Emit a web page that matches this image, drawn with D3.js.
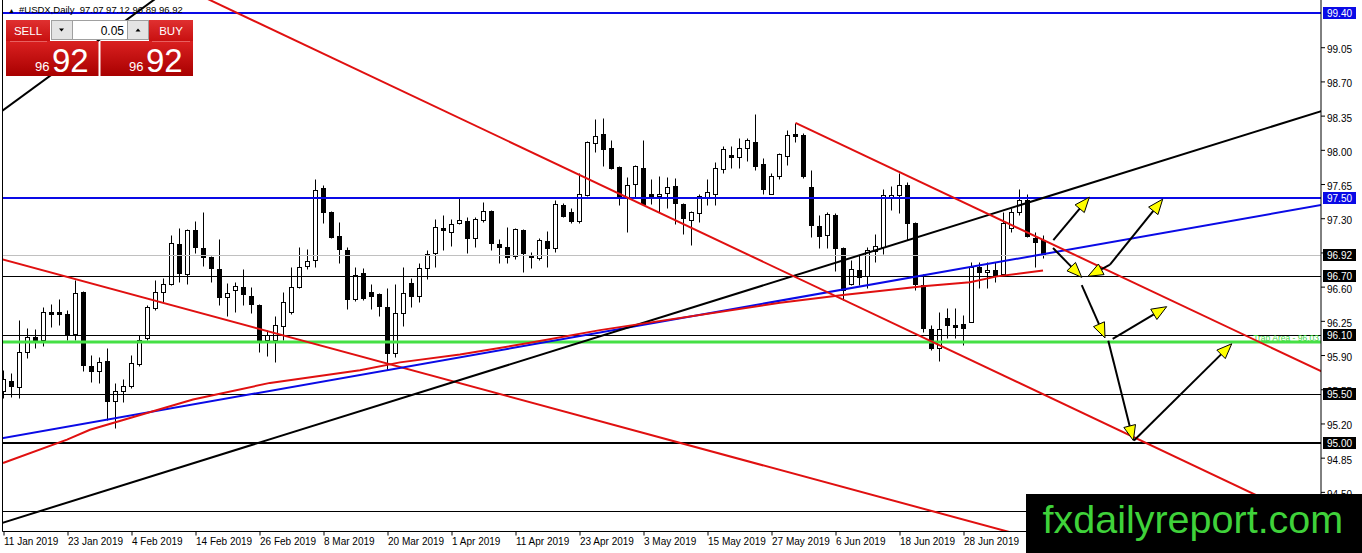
<!DOCTYPE html>
<html>
<head>
<meta charset="utf-8">
<script src="https://cdn.jsdelivr.net/npm/d3@7"></script>
<style>
  body { margin: 0; background: #fff; overflow: hidden; }
  svg { display: block; }
  text { font-family: "Liberation Sans", Arial, sans-serif; }
</style>
</head>
<body>
<div id="chart"></div>
<script>
// #USDX Daily, one candle per trading day starting 11 Jan 2019
const opens = [95.53,95.63,95.57,95.93,96.08,96.05,96.34,96.34,96.31,96.11,96.54,95.78,95.73,95.83,95.43,95.53,95.57,95.80,96.07,96.38,
  96.54,96.62,97.03,96.72,97.17,96.99,96.90,96.78,96.49,96.56,96.59,96.50,96.41,96.05,96.05,96.19,96.33,96.60,96.81,96.86,
  97.60,97.36,97.11,96.97,96.46,96.73,96.54,96.52,96.39,95.92,96.33,96.63,96.50,96.79,96.94,97.20,97.16,97.25,97.27,97.10,
  97.28,97.37,97.03,97.00,96.90,97.17,96.92,96.89,97.06,96.99,97.43,97.36,97.26,97.54,98.07,98.16,98.01,97.82,97.50,97.65,
  97.81,97.54,97.52,97.55,97.62,97.44,97.28,97.35,97.51,97.54,97.80,97.94,97.92,98.02,98.08,97.85,97.55,97.72,97.93,98.16,
  98.15,97.61,97.22,97.13,97.33,96.99,96.63,96.77,96.70,96.96,97.00,97.50,97.53,97.64,97.25,96.61,96.16,95.97,96.27,96.20,
  96.21,96.24,96.80,96.75,96.76,96.73,97.20,97.36,97.48,97.09,97.07];
const highs = [95.74,95.71,96.25,96.17,96.16,96.39,96.42,96.47,96.36,96.66,96.55,95.90,95.87,95.97,95.61,95.65,95.90,96.10,96.41,96.66,
  96.68,97.12,97.20,97.18,97.27,97.36,96.91,97.08,96.63,96.64,96.78,96.59,96.42,96.15,96.29,96.54,96.80,97.00,96.98,97.70,
  97.64,97.37,97.26,97.00,96.80,96.79,96.62,96.53,96.58,96.62,96.80,96.68,96.84,96.97,97.29,97.33,97.29,97.51,97.31,97.31,
  97.46,97.38,97.08,97.21,97.19,97.18,96.95,97.09,97.16,97.48,97.45,97.40,97.76,98.09,98.31,98.32,98.10,97.83,97.72,97.84,
  98.10,97.70,97.73,97.72,97.71,97.45,97.37,97.54,97.70,97.87,98.03,98.03,98.12,98.12,98.36,97.91,97.76,97.96,98.20,98.27,
  98.17,97.79,97.33,97.36,97.35,97.00,96.87,96.92,97.00,97.13,97.59,97.62,97.76,97.67,97.26,96.72,96.20,96.34,96.38,96.38,
  96.30,96.85,96.85,96.85,96.85,97.36,97.40,97.59,97.54,97.15,97.12];
const lows = [95.46,95.47,95.46,95.86,95.97,95.99,96.18,96.20,96.05,96.05,95.73,95.62,95.61,95.23,95.15,95.41,95.56,95.78,96.05,96.36,
  96.44,96.61,96.64,96.62,96.94,96.81,96.64,96.41,96.29,96.34,96.41,96.33,95.93,95.89,95.82,96.05,96.32,96.58,96.78,96.80,
  97.25,97.09,96.84,96.37,96.45,96.46,96.37,96.29,95.74,95.87,96.19,96.39,96.44,96.67,96.80,96.97,97.01,97.24,96.94,97.00,
  97.26,96.97,96.84,96.84,96.88,96.74,96.79,96.87,96.80,96.95,97.31,97.25,97.25,97.52,97.97,97.83,97.80,97.43,97.15,97.50,
  97.43,97.44,97.36,97.40,97.24,97.13,97.02,97.26,97.43,97.43,97.76,97.81,97.81,97.88,97.79,97.54,97.54,97.70,97.84,98.08,
  97.71,97.10,96.99,96.99,96.75,96.46,96.61,96.61,96.58,96.85,96.93,97.38,97.35,97.07,96.56,96.13,95.95,95.83,96.07,96.07,
  96.00,96.23,96.58,96.58,96.64,96.72,97.15,97.33,97.10,96.80,96.89];
const closes = [95.65,95.58,95.93,96.08,96.05,96.34,96.32,96.32,96.11,96.53,95.79,95.73,95.82,95.42,95.53,95.58,95.81,96.05,96.39,96.54,
  96.62,97.04,96.73,97.17,97.00,96.90,96.79,96.49,96.53,96.60,96.52,96.42,96.04,96.10,96.20,96.44,96.59,96.80,96.86,97.58,
  97.35,97.10,96.98,96.47,96.71,96.47,96.50,96.40,95.92,96.33,96.53,96.50,96.79,96.93,97.21,97.18,97.24,97.28,97.10,97.29,
  97.37,97.04,97.00,96.90,97.18,96.93,96.90,97.07,96.99,97.44,97.32,97.27,97.54,98.08,98.14,98.01,97.81,97.51,97.63,97.83,
  97.44,97.50,97.54,97.61,97.45,97.30,97.36,97.52,97.56,97.81,98.00,97.92,98.01,98.10,97.83,97.59,97.73,97.95,98.15,98.14,
  97.73,97.22,97.12,97.34,96.99,96.56,96.78,96.70,96.97,97.01,97.53,97.53,97.63,97.25,96.63,96.17,95.97,96.16,96.20,96.18,
  96.17,96.80,96.75,96.77,96.71,97.25,97.36,97.48,97.11,97.05,96.92];

const dateLabels = ["11 Jan 2019","23 Jan 2019","4 Feb 2019","14 Feb 2019","26 Feb 2019","8 Mar 2019","20 Mar 2019","1 Apr 2019",
  "11 Apr 2019","23 Apr 2019","3 May 2019","15 May 2019","27 May 2019","6 Jun 2019","18 Jun 2019","28 Jun 2019"];
const dateBars = [0,8,16,24,32,40,48,56,64,72,80,88,96,104,112,120];

const priceTicks = [99.05,98.70,98.35,98.00,97.65,97.30,96.95,96.60,96.25,95.90,95.55,95.20,94.85,94.50];

// horizontal levels
const blueLevels = [99.40, 97.50];
const blackLevels = [96.70, 96.10, 95.50, 95.00, 94.30];
const bidPrice = 96.92;
const trapLevel = 96.03;
const trapText = "Trap Area - 96.03";

// trend lines as [bar, price] anchor pairs
const redChannelLow = [[26.0, 99.52], [141.4, 95.05]];
const redChannelHigh = [[99, 98.27], [164.69, 95.73]];
const redOldDown = [[-0.44, 96.88], [124.56, 94.11]];
const blueSupport = [[-0.44, 95.04], [164.69, 97.43]];
const blackSupport = [[-0.06, 94.18], [164.69, 98.39]];
const blackTopLeft = [[-0.06, 98.40], [18.31, 99.50]];
const redCurve = [[-0.06,94.79],[7.94,95.03],[10.81,95.13],[23.69,95.44],[33.31,95.61],[44.56,95.74],[49.56,95.82],
  [57.06,95.90],[65.81,96.02],[74.56,96.15],[97.06,96.43],[104.94,96.51],[114.94,96.60],[120.81,96.64],[124.19,96.70],[129.94,96.76]];

// projected path arrows [from, to]
const arrows = [
  [[131.23, 97.07], [135.73, 97.51]],
  [[131.19, 96.99], [134.78, 96.69]],
  [[138.31, 96.82], [135.56, 96.70]],
  [[138.31, 96.82], [144.90, 97.49]],
  [[134.78, 96.61], [137.69, 96.07]],
  [[138.65, 96.06], [145.40, 96.39]],
  [[138.10, 96.04], [141.23, 95.02]],
  [[141.31, 95.02], [153.53, 96.01]]
];

const titleText = "#USDX,Daily  97.07 97.12 96.89 96.92";

const W = 1362, H = 553;
const plot = { left: 2.5, right: 1321, top: 0, bottom: 531.5 };

const svg = d3.select("#chart").append("svg")
  .attr("width", W).attr("height", H);

svg.append("rect").attr("width", W).attr("height", H).attr("fill", "#fff");

const x = d3.scaleLinear().domain([0, 164.6875]).range([3.5, 1321]);
const y = d3.scaleLinear().domain([95.0, 99.4]).range([442.5, 12.5]);

svg.append("clipPath").attr("id", "plotClip")
  .append("rect")
  .attr("x", plot.left).attr("y", plot.top)
  .attr("width", plot.right - plot.left).attr("height", plot.bottom - plot.top);

const g = svg.append("g").attr("clip-path", "url(#plotClip)");

// candles
const candles = opens.map((o, i) => ({ i, o, h: highs[i], l: lows[i], c: closes[i] }));
const crisp = v => Math.round(v) + 0.5;

const cg = g.append("g");
cg.selectAll("line.wick").data(candles).join("line")
  .attr("class", "wick")
  .attr("x1", d => x(d.i)).attr("x2", d => x(d.i))
  .attr("y1", d => crisp(y(d.h))).attr("y2", d => crisp(y(d.l)))
  .attr("stroke", "#000").attr("stroke-width", 1);

cg.selectAll("rect.body").data(candles).join("rect")
  .attr("class", "body")
  .attr("x", d => x(d.i) - 2)
  .attr("width", 4)
  .attr("y", d => crisp(y(Math.max(d.o, d.c))))
  .attr("height", d => Math.max(1, Math.round(y(Math.min(d.o, d.c)) - y(Math.max(d.o, d.c)))))
  .attr("fill", d => d.c >= d.o ? "#fff" : "#000")
  .attr("stroke", "#000").attr("stroke-width", 1);

// horizontal levels
function hline(price, color, width) {
  const yy = crisp(y(price)) - (width > 1 ? 0.5 : 0);
  g.append("line")
    .attr("x1", plot.left).attr("x2", plot.right)
    .attr("y1", yy).attr("y2", yy)
    .attr("stroke", color).attr("stroke-width", width);
}
hline(bidPrice, "#c0c0c0", 1);
blackLevels.forEach(p => hline(p, "#000", p === 95.00 ? 2 : 1));
blueLevels.forEach(p => hline(p, "#0a0ae6", 2));
hline(trapLevel, "#45e045", 3);

g.append("text")
  .attr("x", plot.right - 2).attr("y", y(trapLevel) - 1)
  .attr("text-anchor", "end")
  .attr("font-size", 8.5).attr("fill", "#3cd83c")
  .text(trapText);

// trend lines
const lineGen = d3.line().x(d => x(d[0])).y(d => y(d[1]));
function extend(pts, lo, hi) {
  const [a, b] = pts;
  const k = (b[1] - a[1]) / (b[0] - a[0]);
  return [[lo, a[1] + k * (lo - a[0])], [hi, a[1] + k * (hi - a[0])]];
}
function trend(pts, color, lo, hi) {
  g.append("path")
    .attr("d", lineGen(extend(pts, lo, hi)))
    .attr("fill", "none").attr("stroke", color).attr("stroke-width", 2);
}
trend(redOldDown, "#e01010", -2, 170);
trend(blueSupport, "#0a0ae6", -2, 170);
trend(blackSupport, "#000", -2, 170);
trend(blackTopLeft, "#000", -2, 30);
trend(redChannelLow, "#e01010", -2, 170);
trend(redChannelHigh, "#e01010", redChannelHigh[0][0], 170);

g.append("path")
  .attr("d", lineGen(redCurve))
  .attr("fill", "none").attr("stroke", "#e01010").attr("stroke-width", 2);

// arrows with yellow heads
const ag = g.append("g");
arrows.forEach(([from, to]) => {
  const x0 = x(from[0]), y0 = y(from[1]), x1 = x(to[0]), y1 = y(to[1]);
  const len = Math.hypot(x1 - x0, y1 - y0);
  const ux = (x1 - x0) / len, uy = (y1 - y0) / len;
  const L = 15, w = 6;
  const bx = x1 - ux * L, by = y1 - uy * L;
  ag.append("line")
    .attr("x1", x0).attr("y1", y0).attr("x2", bx).attr("y2", by)
    .attr("stroke", "#000").attr("stroke-width", 2);
  ag.append("path")
    .attr("d", `M${x1},${y1}L${bx - uy * w},${by + ux * w}L${bx + uy * w},${by - ux * w}Z`)
    .attr("fill", "#ffff00").attr("stroke", "#000").attr("stroke-width", 1);
});

// frame
svg.append("path")
  .attr("d", `M${plot.left},${plot.top}V${plot.bottom}H${plot.right}V${plot.top}`)
  .attr("fill", "none").attr("stroke", "#000").attr("stroke-width", 1);

// price axis
const yAxis = svg.append("g")
  .attr("transform", `translate(${plot.right},0)`)
  .call(d3.axisRight(y).tickValues(priceTicks).tickSize(4).tickFormat(d3.format(".2f")));
yAxis.select(".domain").remove();
yAxis.selectAll("line").attr("transform", "translate(0,0.5)");
yAxis.selectAll("text")
  .attr("x", 6).attr("dy", "0.6em")
  .attr("font-size", 10).attr("font-family", "Liberation Sans, Arial, sans-serif").attr("fill", "#000");

// time axis
const xAxis = svg.append("g")
  .attr("transform", `translate(0,${plot.bottom})`)
  .call(d3.axisBottom(x).tickValues(dateBars).tickSize(4).tickFormat((d, i) => dateLabels[i]));
xAxis.select(".domain").remove();
xAxis.selectAll("text")
  .attr("text-anchor", "start").attr("x", 0).attr("y", 13.5).attr("dy", "0")
  .attr("font-size", 10).attr("font-family", "Liberation Sans, Arial, sans-serif").attr("fill", "#000");

// level labels on the price axis
const labelLevels = [
  { p: 99.40, c: "#0a0ae6" }, { p: 97.50, c: "#0a0ae6" }, { p: bidPrice, c: "#000" },
  { p: 96.70, c: "#000" }, { p: 96.10, c: "#000" }, { p: 95.50, c: "#000" }, { p: 95.00, c: "#000" }
];
const lg = svg.append("g");
labelLevels.forEach(d => {
  const yy = Math.round(y(d.p));
  lg.append("rect").attr("x", 1323).attr("y", yy - 6).attr("width", 33).attr("height", 12).attr("fill", d.c);
  lg.append("text").attr("x", 1339.5).attr("y", yy + 4).attr("text-anchor", "middle")
    .attr("font-size", 10).attr("fill", "#fff").text(d3.format(".2f")(d.p));
});

// title
svg.append("text").attr("x", 8).attr("y", 13).attr("font-size", 7).attr("fill", "#000").text("\u25B2");
svg.append("text").attr("x", 19).attr("y", 13).attr("font-size", 9.5).attr("fill", "#000")
  .style("white-space", "pre").text(titleText);

// one-click trading panel
const defs = svg.append("defs");
const grad = defs.append("linearGradient").attr("id", "redGrad").attr("x1", 0).attr("y1", 0).attr("x2", 0).attr("y2", 1);
grad.append("stop").attr("offset", "0%").attr("stop-color", "#da2020");
grad.append("stop").attr("offset", "100%").attr("stop-color", "#a80000");
const btnGrad = defs.append("linearGradient").attr("id", "btnGrad").attr("x1", 0).attr("y1", 0).attr("x2", 0).attr("y2", 1);
btnGrad.append("stop").attr("offset", "0%").attr("stop-color", "#e03030");
btnGrad.append("stop").attr("offset", "100%").attr("stop-color", "#c81010");

const panel = svg.append("g");
panel.append("rect").attr("x", 6).attr("y", 20).attr("width", 44).attr("height", 21).attr("fill", "url(#btnGrad)");
panel.append("rect").attr("x", 149).attr("y", 20).attr("width", 44).attr("height", 21).attr("fill", "url(#btnGrad)");
panel.append("rect").attr("x", 6).attr("y", 41).attr("width", 92.5).attr("height", 35).attr("fill", "url(#redGrad)");
panel.append("rect").attr("x", 100.5).attr("y", 41).attr("width", 92.5).attr("height", 35).attr("fill", "url(#redGrad)");
panel.append("line").attr("x1", 10).attr("x2", 47).attr("y1", 41.5).attr("y2", 41.5).attr("stroke", "#e86060");
panel.append("line").attr("x1", 152).attr("x2", 190).attr("y1", 41.5).attr("y2", 41.5).attr("stroke", "#e86060");
panel.append("rect").attr("x", 51.5).attr("y", 20.5).attr("width", 97).attr("height", 19).attr("fill", "#e4e4e4").attr("stroke", "#a0a0a0");
panel.append("rect").attr("x", 72.5).attr("y", 20.5).attr("width", 55).attr("height", 19).attr("fill", "#fff").attr("stroke", "#a0a0a0");
panel.append("path").attr("d", "M59,28.5h5l-2.5,3z").attr("fill", "#000");
panel.append("path").attr("d", "M135.5,31.5h5l-2.5,-3z").attr("fill", "#000");
panel.append("text").attr("x", 124).attr("y", 35).attr("text-anchor", "end").attr("font-size", 12).attr("fill", "#000").text("0.05");
panel.append("text").attr("x", 28).attr("y", 35).attr("text-anchor", "middle").attr("font-size", 11.5).attr("fill", "#fff").text("SELL");
panel.append("text").attr("x", 171).attr("y", 35).attr("text-anchor", "middle").attr("font-size", 11.5).attr("fill", "#fff").text("BUY");
[[6, 35], [100.5, 129]].forEach(([bx, sx]) => {
  panel.append("text").attr("x", sx).attr("y", 71).attr("font-size", 13).attr("fill", "#fff").text("96");
  panel.append("text").attr("x", sx + 17).attr("y", 72).attr("font-size", 33).attr("fill", "#fff").text("92");
});

// watermark logo
svg.append("rect").attr("x", 1026).attr("y", 494).attr("width", W - 1026).attr("height", H - 494).attr("fill", "#000");
svg.append("text").attr("x", 1042.5).attr("y", 532.5).attr("font-size", 39.5).attr("fill", "#3fd23a").text("fxdailyreport.com");
</script>
</body>
</html>
